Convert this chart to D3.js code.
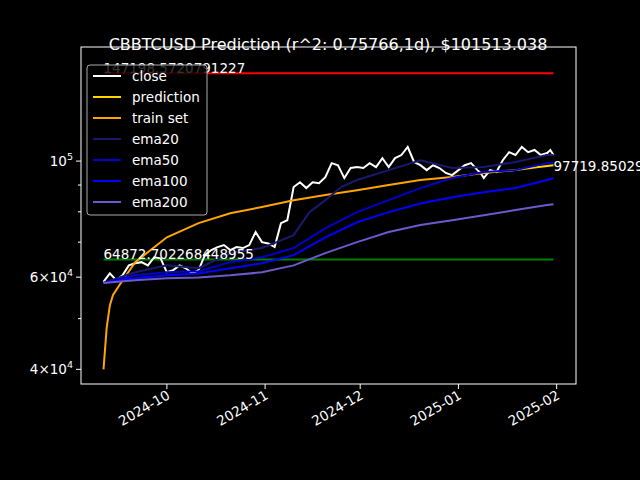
<!DOCTYPE html>
<html><head><meta charset="utf-8">
<script src="https://cdn.jsdelivr.net/npm/d3@7"></script>
<style>body{margin:0;background:#000}svg{display:block}</style>
</head><body><svg width="640" height="480"></svg>
<script>
const startDate = "2024-09-11";
// close, sampled every 2 days (day offset from start)
const closeDays = [0,2,4,6,8,10,12,14,16,18,20,22,24,26,28,30,32,34,36,38,40,42,44,46,48,50,52,54,56,58,60,62,64,66,68,70,72,74,76,78,80,82,84,86,88,90,92,94,96,98,100,102,104,106,108,110,112,114,116,118,119,120,122,124,126,128,130,132,134,136,138,140,141,142];
const closeVals = [58800,61000,59200,60500,63200,63800,64100,63200,65500,65200,61300,61900,63200,62400,61000,61900,66100,67600,68500,69100,67600,68500,68200,69100,73200,70000,69600,68500,76100,77100,89200,91100,88800,91100,90700,93200,99100,98200,92800,97000,97400,97000,99100,97400,101300,97400,101300,102700,106400,99600,98200,96100,98200,97000,94900,94000,96100,98200,99100,96100,94900,92800,96100,95300,100400,104000,102700,106400,104000,105000,102700,103600,105000,102700];
const emaDays = [0,10,20,30,40,50,60,65,70,75,80,90,100,110,120,130,140,142];
const ema20 = [58500,61300,63200,62400,66700,68200,72200,79900,84200,89200,92000,96100,100400,97000,97400,99600,102700,102700];
const ema50Days = [0,10,20,30,40,50,60,70,80,90,100,110,120,130,140,142];
const ema50 = [58500,60500,61300,61600,64100,65500,68200,74400,79900,84200,88800,92800,95300,96100,99100,99400];
const ema100 = [58500,59700,60500,61000,62400,63800,66100,71500,76400,79900,83000,85300,87200,88800,92000,92800];
const ema200 = [58500,59200,59700,59900,60500,61300,63200,66700,70000,73200,75500,77100,78800,80600,82400,82700];
const trainDays = [0,1,2,3,5,10,20,30,40,50,60,70,80,90,100,110,120];
const trainVals = [40000,48000,53000,55500,57900,64100,71500,76100,79500,81700,84200,86100,88000,90000,92000,93200,94900];
const predDays = [120,125,130,136,142];
const predVals = [94900,95500,96100,97200,98200];
const topLevel = 147198.5720791227, topLabel = "147198.5720791227";
const lowLevel = 64872.702268448955, lowLabel = "64872.702268448955";
const lastLabel = "97719.850290", lastVal = 97719.85;
const xTicks = ["2024-10","2024-11","2024-12","2025-01","2025-02"];
const yTicks = [40000, 60000, 100000];
const yMinor = [50000, 70000, 80000, 90000];

const svg = d3.select("svg");
const font = "DejaVu Sans, sans-serif";
const m = {left: 81, right: 576, top: 47, bottom: 384};
const t0 = new Date(startDate + "T00:00").getTime();
const day = d => new Date(t0 + d * 864e5);
const x = d3.scaleTime().domain([day(-7.1), day(149.1)]).range([m.left, m.right]);
const y = d3.scaleLog().domain([37500, 165200]).range([m.bottom, m.top]);

svg.append("rect").attr("width", 640).attr("height", 480).attr("fill", "#000");

const line = d3.line().x(d => x(day(d[0]))).y(d => y(d[1]));
const draw = (ds, vs, color, w) => svg.append("path")
  .datum(ds.map((d, i) => [d, vs[i]]))
  .attr("d", line).attr("fill", "none").attr("stroke", color).attr("stroke-width", w);

svg.append("line").attr("x1", x(day(0))).attr("x2", x(day(142))).attr("y1", y(topLevel)).attr("y2", y(topLevel)).attr("stroke", "red").attr("stroke-width", 2);
svg.append("line").attr("x1", x(day(0))).attr("x2", x(day(142))).attr("y1", y(lowLevel)).attr("y2", y(lowLevel)).attr("stroke", "green").attr("stroke-width", 2);

draw(closeDays, closeVals, "white", 2);
draw(trainDays, trainVals, "orange", 2);
draw(predDays, predVals, "gold", 2);
draw(emaDays, ema20, "midnightblue", 2);
draw(ema50Days, ema50, "mediumblue", 2);
draw(ema50Days, ema100, "blue", 2);
draw(ema50Days, ema200, "slateblue", 2);

const txt = (xx, yy, s) => svg.append("text").attr("x", xx).attr("y", yy).attr("fill", "white")
  .attr("font-family", font).attr("font-size", 13.5).text(s);
txt(x(day(0)), y(topLevel), topLabel);
txt(x(day(0)), y(lowLevel), lowLabel);
txt(x(day(142)), y(lastVal) + 5, lastLabel);

// frame
svg.append("rect").attr("x", m.left).attr("y", m.top).attr("width", m.right - m.left).attr("height", m.bottom - m.top)
  .attr("fill", "none").attr("stroke", "white").attr("stroke-width", 1);

// x axis
const xg = svg.append("g");
xTicks.forEach(t => {
  const px = x(new Date(t + "-01T00:00"));
  xg.append("line").attr("x1", px).attr("x2", px).attr("y1", m.bottom).attr("y2", m.bottom + 5).attr("stroke", "white");
  xg.append("text").attr("transform", `translate(${px + 4},${m.bottom + 14}) rotate(-30)`)
    .attr("text-anchor", "end").attr("fill", "white").attr("font-family", font).attr("font-size", 13.5).text(t);
});
// y axis
yTicks.forEach(v => {
  const py = y(v);
  svg.append("line").attr("x1", m.left - 5).attr("x2", m.left).attr("y1", py).attr("y2", py).attr("stroke", "white");
  const e = Math.floor(Math.log10(v)), c = Math.round(v / Math.pow(10, e));
  const t = svg.append("text").attr("x", m.left - 8).attr("y", py + 5).attr("text-anchor", "end")
    .attr("fill", "white").attr("font-family", font).attr("font-size", 13.5);
  if (c === 1) { t.append("tspan").text("10"); }
  else { t.append("tspan").text(c + "\u00d710"); }
  t.append("tspan").attr("dy", -6).attr("font-size", 9.5).text(e);
});
yMinor.forEach(v => svg.append("line").attr("x1", m.left - 3).attr("x2", m.left).attr("y1", y(v)).attr("y2", y(v)).attr("stroke", "white"));

// title
svg.append("text").attr("x", 328).attr("y", 50).attr("text-anchor", "middle").attr("fill", "white")
  .attr("font-family", font).attr("font-size", 16).text("CBBTCUSD Prediction (r^2: 0.75766,1d), $101513.038");

// legend
const legend = [["close","white"],["prediction","gold"],["train set","orange"],["ema20","midnightblue"],["ema50","mediumblue"],["ema100","blue"],["ema200","slateblue"]];
svg.append("rect").attr("x", 87).attr("y", 65).attr("width", 120).attr("height", 150).attr("rx", 3)
  .attr("fill", "rgba(0,0,0,0.8)").attr("stroke", "#aaa").attr("stroke-width", 1);
legend.forEach((l, i) => {
  const ly = 76 + i * 21;
  svg.append("line").attr("x1", 93).attr("x2", 121).attr("y1", ly).attr("y2", ly).attr("stroke", l[1]).attr("stroke-width", 2);
  svg.append("text").attr("x", 132).attr("y", ly + 5).attr("fill", "white").attr("font-family", font).attr("font-size", 13.5).text(l[0]);
});
</script></body></html>
